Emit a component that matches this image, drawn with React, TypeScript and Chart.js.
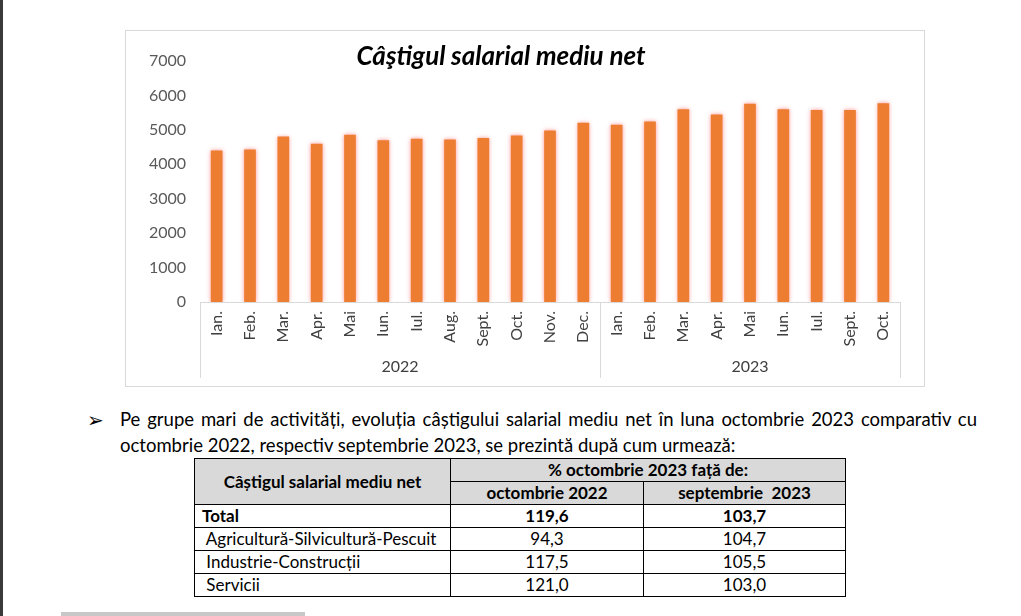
import React, { useEffect, useRef } from 'react';
import { Chart, registerables } from 'chart.js';

Chart.register(...registerables);

// ---------- data ----------
const chartTitle = 'Câştigul salarial mediu net';
const years = ['2022', '2023'];
const months2022 = ['Ian.', 'Feb.', 'Mar.', 'Apr.', 'Mai', 'Iun.', 'Iul.', 'Aug.', 'Sept.', 'Oct.', 'Nov.', 'Dec.'];
const months2023 = ['Ian.', 'Feb.', 'Mar.', 'Apr.', 'Mai', 'Iun.', 'Iul.', 'Sept.', 'Oct.'];
const values2022 = [4400, 4430, 4805, 4600, 4855, 4700, 4740, 4720, 4765, 4835, 4980, 5205];
const values2023 = [5145, 5245, 5600, 5445, 5755, 5600, 5580, 5580, 5775];
const yMin = 0;
const yMax = 7000;
const yStep = 1000;

const bulletText1 = 'Pe grupe mari de activități, evoluția câștigului salarial mediu net în luna octombrie 2023 comparativ cu';
const bulletText2 = 'octombrie 2022, respectiv septembrie 2023, se prezintă după cum urmează:';

const tableHeadMain = 'Câștigul salarial mediu net';
const tableHeadGroup = '% octombrie 2023 față de:';
const tableHeadCols = ['octombrie 2022', 'septembrie  2023'];
const rowNames = ['Total', ' Agricultură-Silvicultură-Pescuit', ' Industrie-Construcții', ' Servicii'];
const colOct2022 = ['119,6', '94,3', '117,5', '121,0'];
const colSep2023 = ['103,7', '104,7', '105,5', '103,0'];

const labels = [...months2022, ...months2023];
const values = [...values2022, ...values2023];
const groupSizes = [months2022.length, months2023.length];

const FONT = 'Lato, "Open Sans", sans-serif';

const decorPlugin = {
  id: 'decor',
  beforeDatasetsDraw(chart: any) {
    const ctx = chart.ctx;
    ctx.save();
    ctx.shadowColor = 'rgba(255,70,70,0.6)';
    ctx.shadowBlur = 4;
  },
  afterDatasetsDraw(chart: any) {
    chart.ctx.restore();
  },
  afterDraw(chart: any) {
    const { ctx, chartArea } = chart;
    const x = chart.scales.x;
    const n = labels.length;
    const edge = (i: number) => {
      if (i <= 0) return chartArea.left;
      if (i >= n) return chartArea.right;
      return (x.getPixelForValue(i - 1) + x.getPixelForValue(i)) / 2;
    };
    const top = chartArea.bottom;
    const bottom = chartArea.bottom + 76;
    ctx.save();
    ctx.strokeStyle = '#d9d9d9';
    ctx.lineWidth = 1;
    let idx = 0;
    const bounds: number[] = [0];
    groupSizes.forEach((g) => {
      idx += g;
      bounds.push(idx);
    });
    bounds.forEach((b) => {
      const px = Math.round(edge(b)) + 0.5;
      ctx.beginPath();
      ctx.moveTo(px, top);
      ctx.lineTo(px, bottom);
      ctx.stroke();
    });
    ctx.fillStyle = '#404040';
    ctx.font = '16px ' + FONT;
    ctx.textAlign = 'center';
    ctx.textBaseline = 'middle';
    years.forEach((yr, k) => {
      const cx = (edge(bounds[k]) + edge(bounds[k + 1])) / 2;
      ctx.fillText(yr, cx, chartArea.bottom + 65);
    });
    ctx.fillStyle = '#000000';
    ctx.font = 'italic bold 26px ' + FONT;
    ctx.fillText(chartTitle, 375, 26);
    ctx.restore();
  },
};

function BarChart() {
  const ref = useRef<HTMLCanvasElement | null>(null);
  useEffect(() => {
    if (!ref.current) return;
    const chart = new Chart(ref.current, {
      type: 'bar',
      data: {
        labels,
        datasets: [
          {
            data: values,
            backgroundColor: '#ED7D31',
            borderWidth: 0,
            barPercentage: 0.35,
            categoryPercentage: 1,
          },
        ],
      },
      options: {
        animation: false,
        responsive: false,
        maintainAspectRatio: false,
        layout: { padding: { left: 0, right: 24, top: 30, bottom: 0 } },
        plugins: { legend: { display: false }, tooltip: { enabled: false }, title: { display: false } },
        scales: {
          x: {
            grid: { display: false, drawTicks: false },
            border: { display: true, color: '#d9d9d9' },
            ticks: {
              autoSkip: false,
              minRotation: 90,
              maxRotation: 90,
              padding: 9,
              color: '#404040',
              font: { family: FONT, size: 16 },
            },
            afterFit: (s: any) => {
              s.height = 84;
            },
          },
          y: {
            min: yMin,
            max: yMax,
            grid: { display: false, drawTicks: false },
            border: { display: false },
            ticks: {
              stepSize: yStep,
              padding: 14,
              color: '#595959',
              font: { family: FONT, size: 16 },
              callback: (v: any) => String(v),
            },
            afterFit: (s: any) => {
              s.width = 74;
            },
          },
        },
      },
      plugins: [decorPlugin],
    } as any);
    return () => chart.destroy();
  }, []);
  return <canvas ref={ref} width={798} height={355} style={{ display: 'block', width: 798, height: 355 }} />;
}

const cellBorder = '1px solid #000';

export default function App() {
  const td: React.CSSProperties = { border: cellBorder, padding: 0, height: 22, fontSize: 17, lineHeight: '22px', whiteSpace: 'pre' };
  return (
    <div
      style={{
        position: 'fixed',
        left: 0,
        top: 0,
        width: 1021,
        height: 616,
        background: '#ffffff',
        overflow: 'hidden',
        fontFamily: FONT,
        color: '#000',
      }}
    >
      <div style={{ position: 'absolute', left: 0, top: 0, width: 3, height: 616, background: '#3a3a3a' }} />
      <div
        style={{
          position: 'absolute',
          left: 125,
          top: 30,
          width: 800,
          height: 357,
          border: '1px solid #d9d9d9',
          boxSizing: 'border-box',
        }}
      >
        <BarChart />
      </div>
      <div style={{ position: 'absolute', left: 87, top: 407, fontSize: 20, lineHeight: '26px', fontFamily: '"DejaVu Sans", sans-serif' }}>➢</div>
      <div
        style={{
          position: 'absolute',
          left: 120,
          top: 406,
          width: 857,
          fontSize: 18.5,
          lineHeight: '26px',
          whiteSpace: 'nowrap',
          textAlign: 'justify',
          textAlignLast: 'justify',
        }}
      >
        {bulletText1}
      </div>
      <div style={{ position: 'absolute', left: 120, top: 432, fontSize: 18.5, lineHeight: '26px', whiteSpace: 'nowrap' }}>
        {bulletText2}
      </div>
      <table
        style={{
          position: 'absolute',
          left: 194,
          top: 458,
          width: 651,
          borderCollapse: 'collapse',
          tableLayout: 'fixed',
        }}
      >
        <colgroup>
          <col style={{ width: 256 }} />
          <col style={{ width: 193 }} />
          <col style={{ width: 202 }} />
        </colgroup>
        <tbody>
          <tr>
            <td rowSpan={2} style={{ ...td, background: '#d9d9d9', fontWeight: 700, textAlign: 'center' }}>
              {tableHeadMain}
            </td>
            <td colSpan={2} style={{ ...td, background: '#d9d9d9', fontWeight: 700, textAlign: 'center' }}>
              {tableHeadGroup}
            </td>
          </tr>
          <tr>
            {tableHeadCols.map((h) => (
              <td key={h} style={{ ...td, background: '#d9d9d9', fontWeight: 700, textAlign: 'center' }}>
                {h}
              </td>
            ))}
          </tr>
          {rowNames.map((r, i) => (
            <tr key={r}>
              <td style={{ ...td, paddingLeft: 7, fontWeight: i === 0 ? 700 : 400 }}>{r}</td>
              <td style={{ ...td, textAlign: 'center', fontWeight: i === 0 ? 700 : 400 }}>{colOct2022[i]}</td>
              <td style={{ ...td, textAlign: 'center', fontWeight: i === 0 ? 700 : 400 }}>{colSep2023[i]}</td>
            </tr>
          ))}
        </tbody>
      </table>
      <div style={{ position: 'absolute', left: 61, top: 612, width: 244, height: 4, background: '#c8c8c8' }} />
    </div>
  );
}
